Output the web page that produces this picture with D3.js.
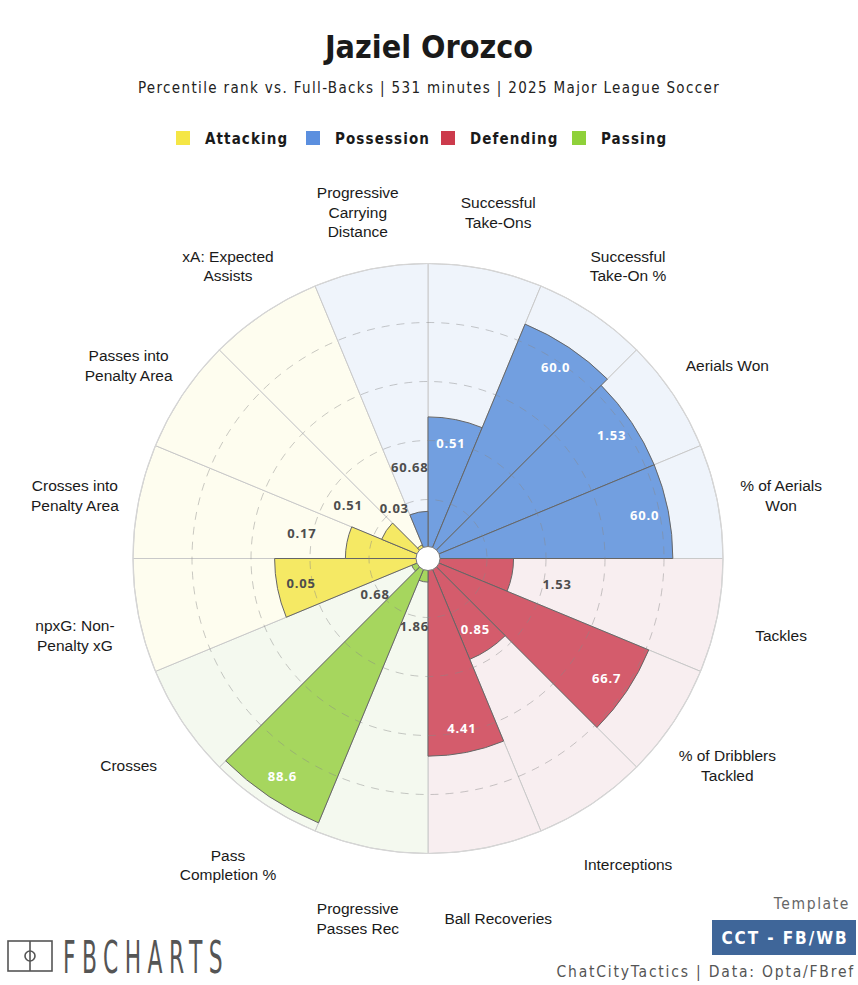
<!DOCTYPE html>
<html>
<head>
<meta charset="utf-8">
<script src="https://cdn.jsdelivr.net/npm/d3@7"></script>
<style>
  body { margin: 0; background: #fff; }
  svg { display: block; }
</style>
</head>
<body>
<div id="chart"></div>
<script>
// Metrics in clockwise order starting at 12 o'clock
const metrics = [
    "Successful Take-Ons", "Successful Take-On %", "Aerials Won", "% of Aerials Won",
    "Tackles", "% of Dribblers Tackled", "Interceptions", "Ball Recoveries",
    "Progressive Passes Rec", "Pass Completion %", "Crosses", "npxG: Non-Penalty xG",
    "Crosses into Penalty Area", "Passes into Penalty Area", "xA: Expected Assists",
    "Progressive Carrying Distance"
];
// How each metric name is broken onto lines around the wheel
const metricLines = [
    ["Successful", "Take-Ons"], ["Successful", "Take-On %"], ["Aerials Won"], ["% of Aerials", "Won"],
    ["Tackles"], ["% of Dribblers", "Tackled"], ["Interceptions"], ["Ball Recoveries"],
    ["Progressive", "Passes Rec"], ["Pass", "Completion %"], ["Crosses"], ["npxG: Non-", "Penalty xG"],
    ["Crosses into", "Penalty Area"], ["Passes into", "Penalty Area"], ["xA: Expected", "Assists"],
    ["Progressive", "Carrying", "Distance"]
];
const metricGroups = [
    "Possession", "Possession", "Possession", "Possession",
    "Defending", "Defending", "Defending", "Defending",
    "Passing", "Passing", "Passing", "Attacking",
    "Attacking", "Attacking", "Attacking", "Possession"
];
const percentiles = [48, 86, 83, 83, 29, 81, 37, 67, 8, 97, 6, 52, 28, 17, 5, 16];
const rawValues = ["0.51", "60.0", "1.53", "60.0", "1.53", "66.7", "0.85", "4.41",
                   "1.86", "88.6", "0.68", "0.05", "0.17", "0.51", "0.03", "60.68"];

const legendGroups = ["Attacking", "Possession", "Defending", "Passing"];
const gridTicks = [20, 40, 60, 80];

// Colours per group
const barColor = {Attacking: "#f5e964", Possession: "#729fe0", Defending: "#d45c6c", Passing: "#a6d65e"};
const bgColor = {Attacking: "#fefdef", Possession: "#eff4fb", Defending: "#f8eef0", Passing: "#f4f9ef"};
const legendColor = {Attacking: "#f5e645", Possession: "#5b8fdf", Defending: "#cc3b4c", Passing: "#8fd13a"};

const W = 858, H = 985;
const cx = 428, cy = 558.5, R = 295;

const data = metrics.map((m, i) => ({
    metric: m,
    lines: metricLines[i],
    group: metricGroups[i],
    pct: percentiles[i],
    value: rawValues[i]
}));

const svg = d3.select("#chart").append("svg")
    .attr("width", W)
    .attr("height", H);

const headFont = "'DejaVu Sans Condensed', 'DejaVu Sans', sans-serif";

// Title and subtitle
svg.append("text")
    .attr("x", W / 2).attr("y", 58)
    .attr("text-anchor", "middle")
    .style("font-family", headFont)
    .style("font-weight", "bold")
    .style("font-size", "32px")
    .style("fill", "#1a1a1a")
    .text("Jaziel Orozco");

svg.append("text")
    .attr("x", W / 2).attr("y", 93)
    .attr("text-anchor", "middle")
    .style("font-family", headFont)
    .style("font-size", "15px")
    .style("letter-spacing", "1.35px")
    .style("fill", "#222")
    .text("Percentile rank vs. Full-Backs | 531 minutes | 2025 Major League Soccer");

// Legend
const legendX = [176, 306, 441, 572];
const legend = svg.append("g").attr("class", "legend");
legendGroups.forEach((g, i) => {
    legend.append("rect")
        .attr("x", legendX[i]).attr("y", 131)
        .attr("width", 14).attr("height", 14)
        .attr("fill", legendColor[g]);
    legend.append("text")
        .attr("x", legendX[i] + 29).attr("y", 144)
        .style("font-family", headFont)
        .style("font-weight", "bold")
        .style("font-size", "15px")
        .style("letter-spacing", "1.1px")
        .style("fill", "#1a1a1a")
        .text(g);
});

// Scales
const angle = d3.scaleBand()
    .domain(metrics)
    .range([0, 2 * Math.PI]);

const radius = d3.scaleLinear()
    .domain([0, 100])
    .range([0, R]);

const wheel = svg.append("g")
    .attr("transform", `translate(${cx},${cy})`);

const bgArc = d3.arc()
    .innerRadius(0)
    .outerRadius(radius(100))
    .startAngle(d => angle(d.metric))
    .endAngle(d => angle(d.metric) + angle.bandwidth());

const barArc = d3.arc()
    .innerRadius(0)
    .outerRadius(d => radius(d.pct))
    .startAngle(d => angle(d.metric))
    .endAngle(d => angle(d.metric) + angle.bandwidth());

// Background wedges
wheel.selectAll(".bg")
    .data(data)
    .enter().append("path")
    .attr("class", "bg")
    .attr("d", bgArc)
    .attr("fill", d => bgColor[d.group])
    .attr("stroke", "#c9c9c9")
    .attr("stroke-width", 1);

// Percentile bars
wheel.selectAll(".bar")
    .data(data)
    .enter().append("path")
    .attr("class", "bar")
    .attr("d", barArc)
    .attr("fill", d => barColor[d.group])
    .attr("stroke", "#666")
    .attr("stroke-width", 1);

// Dashed rings
wheel.selectAll(".ring")
    .data(gridTicks)
    .enter().append("circle")
    .attr("class", "ring")
    .attr("r", d => radius(d))
    .attr("fill", "none")
    .attr("stroke", "#888")
    .attr("stroke-opacity", 0.45)
    .attr("stroke-width", 1)
    .attr("stroke-dasharray", "8,7");

// Outer edge
wheel.append("circle")
    .attr("r", radius(100))
    .attr("fill", "none")
    .attr("stroke", "#d6d6d6")
    .attr("stroke-width", 1.2);

// Centre hole
wheel.append("circle")
    .attr("r", 12)
    .attr("fill", "#fff")
    .attr("stroke", "#777")
    .attr("stroke-width", 1);

const mid = d => angle(d.metric) + angle.bandwidth() / 2;
const labelRadius = d => d.pct >= 33 ? radius(d.pct) - 24 : radius(d.pct) + 46;

// Value labels: inside the bar when it is long enough, otherwise just outside
wheel.selectAll(".val")
    .data(data)
    .enter().append("text")
    .attr("class", "val")
    .attr("x", d => labelRadius(d) * Math.sin(mid(d)))
    .attr("y", d => -labelRadius(d) * Math.cos(mid(d)))
    .attr("dy", "0.36em")
    .attr("text-anchor", "middle")
    .style("font-family", "'Open Sans', 'DejaVu Sans', sans-serif")
    .style("font-weight", "bold")
    .style("font-size", "13px")
    .style("letter-spacing", "0.8px")
    .style("fill", d => (d.pct >= 33 && d.group !== "Attacking") ? "#fff" : "#4d4d4d")
    .text(d => d.value);

// Metric labels around the wheel
const labelR = 360, lineH = 19.5;
const labels = wheel.selectAll(".metric")
    .data(data)
    .enter().append("text")
    .attr("class", "metric")
    .attr("text-anchor", "middle")
    .style("font-family", "'Liberation Sans', Arial, sans-serif")
    .style("font-size", "15.5px")
    .style("fill", "#1a1a1a");

labels.each(function(d) {
    const x = labelR * Math.sin(mid(d));
    const y = -labelR * Math.cos(mid(d)) + 7;
    const first = y - (d.lines.length - 1) * lineH / 2 + 5.5;
    d3.select(this).selectAll("tspan")
        .data(d.lines)
        .enter().append("tspan")
        .attr("x", x)
        .attr("y", (l, j) => first + j * lineH)
        .text(l => l);
});

// Footer: logo
const logo = svg.append("g").attr("class", "logo");
logo.append("rect")
    .attr("x", 8).attr("y", 941)
    .attr("width", 44).attr("height", 30)
    .attr("fill", "none")
    .attr("stroke", "#555")
    .attr("stroke-width", 1.6);
logo.append("line")
    .attr("x1", 30).attr("x2", 30)
    .attr("y1", 941).attr("y2", 971)
    .attr("stroke", "#555")
    .attr("stroke-width", 1.6);
logo.append("circle")
    .attr("cx", 30).attr("cy", 956)
    .attr("r", 5)
    .attr("fill", "none")
    .attr("stroke", "#555")
    .attr("stroke-width", 1.6);
logo.append("text")
    .attr("x", 63).attr("y", 973)
    .attr("textLength", 166)
    .attr("lengthAdjust", "spacingAndGlyphs")
    .style("font-family", headFont)
    .style("font-size", "45px")
    .style("letter-spacing", "12px")
    .style("fill", "#555")
    .text("FBCHARTS");

// Footer: template badge and credits
svg.append("text")
    .attr("x", 850).attr("y", 909)
    .attr("text-anchor", "end")
    .style("font-family", headFont)
    .style("font-size", "15.5px")
    .style("letter-spacing", "1.6px")
    .style("fill", "#666")
    .text("Template");

svg.append("rect")
    .attr("x", 712).attr("y", 920)
    .attr("width", 144).attr("height", 35)
    .attr("fill", "#3f6699");

svg.append("text")
    .attr("x", 785).attr("y", 944)
    .attr("text-anchor", "middle")
    .style("font-family", headFont)
    .style("font-weight", "bold")
    .style("font-size", "17px")
    .style("letter-spacing", "1.9px")
    .style("fill", "#fff")
    .text("CCT - FB/WB");

svg.append("text")
    .attr("x", 855).attr("y", 977)
    .attr("text-anchor", "end")
    .style("font-family", headFont)
    .style("font-size", "15.5px")
    .style("letter-spacing", "1.8px")
    .style("fill", "#555")
    .text("ChatCityTactics | Data: Opta/FBref");
</script>
</body>
</html>
